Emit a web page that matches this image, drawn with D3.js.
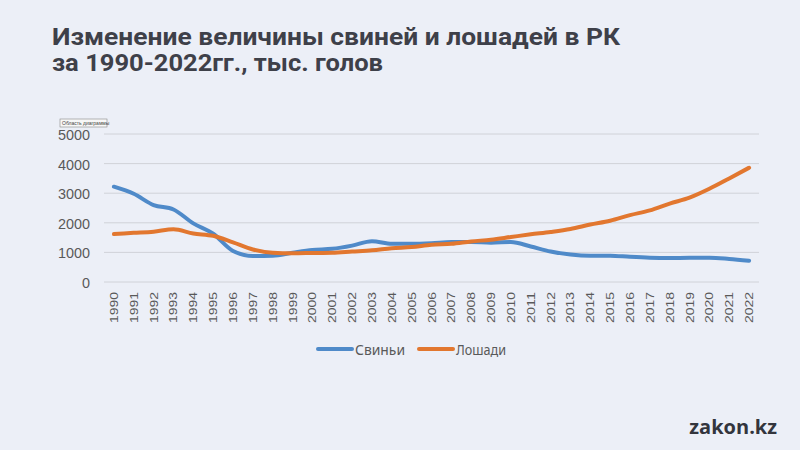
<!DOCTYPE html>
<html>
<head>
<meta charset="utf-8">
<script src="https://cdn.jsdelivr.net/npm/d3@7"></script>
<style>
  body { margin: 0; background: #eceff7; }
  svg { display: block; }
</style>
</head>
<body>
<svg id="chart"></svg>
<script>
const years = d3.range(1990, 2023).map(String)
const pigs = [3220, 2980, 2600, 2450, 1980, 1630, 1050, 880, 890, 990, 1080, 1120, 1230, 1380, 1290, 1290, 1310,
  1350, 1350, 1330, 1350, 1200, 1030, 930, 890, 890, 850, 820, 810, 820, 820, 780, 720]
const horses = [1620, 1660, 1700, 1780, 1640, 1560, 1340, 1100, 990, 970, 980, 990, 1030, 1070, 1140, 1180, 1260,
  1290, 1370, 1430, 1520, 1610, 1690, 1790, 1940, 2070, 2260, 2420, 2650, 2850, 3150, 3500, 3860]
const yTicks = [0, 1000, 2000, 3000, 4000, 5000]
const seriesNames = ["Свиньи", "Лошади"]
const colors = ["#4f8ac9", "#e2772f"]

const width = 800, height = 450
const svg = d3.select("#chart").attr("width", width).attr("height", height)

svg.append("rect").attr("width", width).attr("height", height).attr("fill", "#eceff7")

// Title
const title = svg.append("g")
  .attr("font-family", "Roboto, sans-serif")
  .attr("font-weight", "bold")
  .attr("font-size", 24)
  .attr("fill", "#3e4049")
title.append("text").attr("x", 52).attr("y", 45)
  .attr("textLength", 568).attr("lengthAdjust", "spacingAndGlyphs")
  .text("Изменение величины свиней и лошадей в РК")
title.append("text").attr("x", 52).attr("y", 71)
  .attr("textLength", 331).attr("lengthAdjust", "spacingAndGlyphs")
  .text("за 1990-2022гг., тыс. голов")

// Scales
const x = d3.scaleBand().domain(years).range([104, 759])
const y = d3.scaleLinear().domain([0, 5000]).range([282, 134])
const cx = d => x(d) + x.bandwidth() / 2

// Gridlines
svg.append("g")
  .selectAll("line")
  .data(yTicks)
  .join("line")
  .attr("x1", x.range()[0])
  .attr("x2", x.range()[1])
  .attr("y1", d => y(d))
  .attr("y2", d => y(d))
  .attr("stroke", "#d0d2d8")
  .attr("stroke-width", 1)

// Y axis
const yAxis = svg.append("g")
  .attr("transform", "translate(90,0)")
  .call(d3.axisLeft(y).tickValues(yTicks).tickFormat(d3.format("d")).tickSize(0).tickPadding(0))
yAxis.select(".domain").remove()
yAxis.selectAll("text")
  .attr("font-family", "'Liberation Sans', sans-serif")
  .attr("font-size", 15)
  .attr("fill", "#595959")
  .attr("dy", "0.36em")
  .attr("textLength", d => String(d).length * 8)
  .attr("lengthAdjust", "spacingAndGlyphs")

// X axis
const xAxis = svg.append("g")
  .attr("transform", `translate(0,${y(0)})`)
  .call(d3.axisBottom(x).tickSize(0).tickPadding(0))
xAxis.select(".domain").remove()
xAxis.selectAll("text")
  .attr("font-family", "'Liberation Sans', sans-serif")
  .attr("font-size", 11)
  .attr("fill", "#595959")
  .attr("text-anchor", "end")
  .attr("dy", null)
  .attr("textLength", 31)
  .attr("lengthAdjust", "spacingAndGlyphs")
  .attr("transform", "translate(4,10) rotate(-90)")

// Lines
const line = d3.line()
  .x((d, i) => cx(years[i]))
  .y(d => y(d))
  .curve(d3.curveMonotoneX)

;[pigs, horses].forEach((vals, i) => {
  svg.append("path")
    .datum(vals)
    .attr("d", line)
    .attr("fill", "none")
    .attr("stroke", colors[i])
    .attr("stroke-width", 4)
    .attr("stroke-linecap", "round")
    .attr("stroke-linejoin", "round")
})

// Legend
const legendPos = [318, 419]
const legend = svg.append("g")
seriesNames.forEach((name, i) => {
  legend.append("line")
    .attr("x1", legendPos[i]).attr("x2", legendPos[i] + 34)
    .attr("y1", 349).attr("y2", 349)
    .attr("stroke", colors[i]).attr("stroke-width", 4)
    .attr("stroke-linecap", "round")
  legend.append("text")
    .attr("x", legendPos[i] + 37).attr("y", 354.5)
    .attr("font-family", "'Noto Sans', sans-serif")
    .attr("font-size", 15)
    .attr("fill", "#595959")
    .attr("textLength", 50)
    .attr("lengthAdjust", "spacingAndGlyphs")
    .text(name)
})

// Chart area tooltip artifact
const tip = svg.append("g").attr("transform", "translate(60,119)")
tip.append("rect").attr("width", 47).attr("height", 8)
  .attr("fill", "#f7f7f7").attr("stroke", "#888").attr("stroke-width", 0.6)
tip.append("text").attr("x", 2).attr("y", 6)
  .attr("font-family", "'Liberation Sans', sans-serif")
  .attr("font-size", 5).attr("fill", "#444")
  .text("Область диаграммы")

// Brand
svg.append("text")
  .attr("x", 777).attr("y", 434)
  .attr("text-anchor", "end")
  .attr("font-family", "'Open Sans', sans-serif")
  .attr("font-weight", "bold")
  .attr("font-size", 20)
  .attr("fill", "#33353d")
  .text("zakon.kz")
</script>
</body>
</html>
